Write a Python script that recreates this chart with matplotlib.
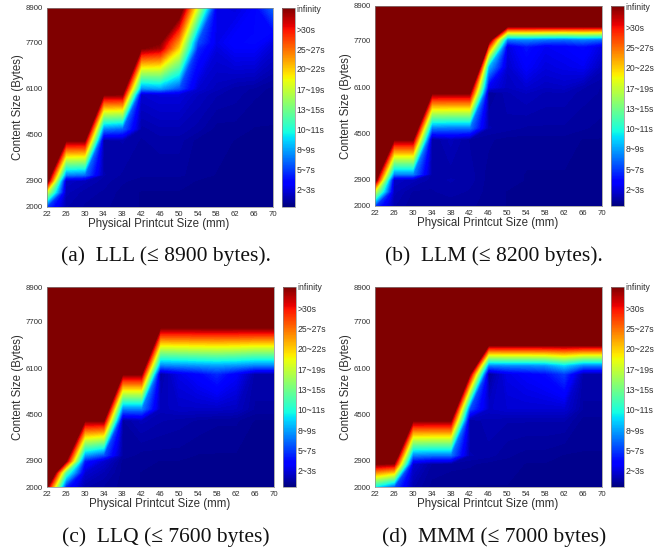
import numpy as np
import matplotlib
matplotlib.use("Agg")
import matplotlib.pyplot as plt
from matplotlib.cm import ScalarMappable
from matplotlib.colors import Normalize

W, H = 670, 550
sizes_mm = [22, 26, 30, 34, 38, 42, 46, 50, 54, 58, 62, 66, 70]
y_ticks = [2000, 2900, 4500, 6100, 7700, 8900]

# Colour-bar units: 0..10, where 10 and above means "infinity"
cbar_ticks = [0.84, 1.84, 2.85, 3.87, 4.87, 5.89, 6.93, 7.93, 8.93, 10]
cbar_labels = ["2~3s", "5~7s", "8~9s", "10~11s", "13~15s", "17~19s",
               "20~22s", "25~27s", ">30s", "infinity"]

lll_rows = [2000, 2500, 2900, 3100, 4300, 4700, 5900, 6100, 7500, 7700, 8900]
lll_vals = [
    [1.8, .4, .3, .25, .2, .15, .15, .15, .15, .15, .15, .15, .15],
    [6, .5, .35, .3, .2, .15, .15, .15, .15, .15, .15, .15, .15],
    [10.5, .6, .5, .35, .25, .2, .2, .2, .15, .15, .15, .15, .15],
    [11.5, 2.5, 2.3, .4, .3, .25, .25, .25, .2, .15, .15, .15, .15],
    [18, 10, 10, .3, .4, .3, .35, .35, .2, .2, .15, .15, .15],
    [20, 20, 12.5, 2.5, 2.2, .35, .45, .45, .35, .2, .2, .15, .15],
    [20, 20, 20, 10, 10, .7, .8, .8, .55, .4, .35, .25, .2],
    [20, 20, 20, 20, 11, 2.6, 2.8, 2.0, .7, .5, .35, .3, .2],
    [20, 20, 20, 20, 20, 10, 9.6, 6.8, 1.6, .8, 1.1, 1.1, .7],
    [20, 20, 20, 20, 20, 20, 10, 7.4, 2.0, .9, 1.2, 1.3, .8],
    [20, 20, 20, 20, 20, 20, 16, 11, 6, .9, .8, 1.1, 2.2],
]

llm_rows = [2000, 2500, 2900, 3100, 4300, 4700, 5900, 6100, 6800, 7500, 7750, 8200, 8900]
llm_vals = [
    [1.8, .4, .25, .25, .25, .25, .2, .15, .15, .15, .15, .15, .15],
    [6, .5, .3, .3, .35, .3, .2, .15, .15, .15, .15, .15, .15],
    [10.5, .6, .5, .35, .4, .35, .2, .2, .15, .15, .15, .15, .15],
    [11.5, 2.5, 2.5, .35, .35, .35, .2, .2, .15, .15, .15, .15, .15],
    [18, 10, 10, .3, .5, .3, .25, .2, .2, .2, .2, .15, .15],
    [20, 20, 12.5, 2.5, 2.4, 2.4, .4, .35, .3, .3, .3, .25, .2],
    [20, 20, 20, 10, 10, 10, .2, .45, .55, .45, .45, .35, .3],
    [20, 20, 20, 20, 20, 11.2, 1.0, .55, .7, .55, .6, .4, .3],
    [20, 20, 20, 20, 20, 18, 3.0, .65, 1.1, .8, .9, 1.0, .5],
    [20, 20, 20, 20, 20, 30, 8.5, .8, 1.4, 1.0, 1.1, 1.3, .8],
    [20, 20, 20, 20, 20, 30, 11, 2.5, 2.6, 2.4, 2.3, 2.5, 2.3],
    [20, 20, 20, 20, 20, 20, 20, 10, 10, 10, 10, 10, 10],
    [20, 20, 20, 20, 20, 20, 20, 20, 20, 20, 20, 20, 20],
]

llq_rows = [2000, 2500, 2900, 3100, 4300, 4700, 5900, 6200, 7500, 8900]
llq_vals = [
    [10, 1.5, .4, .3, .2, .15, .15, .15, .15, .15, .15, .15, .15],
    [14, 4.5, .7, .45, .2, .15, .15, .15, .15, .15, .15, .15, .15],
    [20, 10, 1.5, .7, .2, .2, .15, .15, .15, .15, .15, .15, .15],
    [20, 11.2, 2.8, 2.0, .3, .2, .2, .2, .15, .15, .15, .15, .15],
    [20, 18, 10, 10, .3, .5, .4, .35, .3, .25, .25, .15, .15],
    [20, 20, 20, 12.5, 2.5, 2.5, .5, .6, .6, .6, .55, .3, .3],
    [20, 20, 20, 20, 10, 10, .3, .9, 1.2, 1.6, 1.1, .35, .35],
    [20, 20, 20, 20, 20, 11.7, 2.5, 2.6, 2.7, 2.8, 2.7, 2.5, 2.5],
    [20, 20, 20, 20, 20, 20, 10, 10, 10, 10, 10, 10, 10],
    [20, 20, 20, 20, 20, 20, 20, 20, 20, 20, 20, 20, 20],
]

mmm_rows = [2000, 2800, 3100, 4300, 4700, 5900, 6200, 6900, 8900]
mmm_vals = [
    [3.5, 2.0, .4, .2, .2, .15, .15, .15, .15, .15, .15, .15, .15],
    [10, 9.8, .7, .3, .25, .25, .2, .2, .15, .15, .15, .15, .15],
    [12, 11.9, 2.5, 2.4, 2.4, .4, .35, .25, .2, .2, .15, .15, .15],
    [20, 20, 10, 10, 10, .3, .45, .4, .4, .4, .4, .2, .2],
    [20, 20, 20, 20, 12.7, 2.0, .6, .7, .7, .7, .7, .3, .3],
    [20, 20, 20, 20, 20, 10, .2, .9, 1.1, 1.3, 1.8, .35, .35],
    [20, 20, 20, 20, 20, 13.2, 2.5, 2.6, 2.6, 2.7, 3.3, 2.5, 2.5],
    [20, 20, 20, 20, 20, 25, 10, 10, 10, 10, 10, 10, 10],
    [20, 20, 20, 20, 20, 20, 20, 20, 20, 20, 20, 20, 20],
]

captions = ["(a)  LLL (≤ 8900 bytes).", "(b)  LLM (≤ 8200 bytes).",
            "(c)  LLQ (≤ 7600 bytes)", "(d)  MMM (≤ 7000 bytes)"]
panels = [(lll_rows, lll_vals), (llm_rows, llm_vals),
          (llq_rows, llq_vals), (mmm_rows, mmm_vals)]

# Layout in pixels: axes left/right/top/bottom, colour bar left/right, caption x/y
layout = [
    (47, 273, 8, 206.5, 282, 294.5, 166, 256),
    (375, 602, 6, 206, 611, 623.5, 494, 256),
    (47, 273.5, 287, 487, 283, 295.5, 166, 537),
    (375, 602, 287, 487, 611, 623.5, 494, 537),
]

SANS = "Liberation Sans"
SERIF = "Liberation Serif"
GREY = "#8a8a8a"
TEXT = "#303030"


def px_axes(fig, left, right, top, bottom):
    return fig.add_axes([left / W, 1 - bottom / H, (right - left) / W, (bottom - top) / H])


fig = plt.figure(figsize=(W / 100, H / 100), dpi=100, facecolor="white")
levels = np.linspace(0, 10, 129)
jet = plt.get_cmap("jet").copy()

for (rows, vals), cap, (l, r, t, b, cl, cr, capx, capy) in zip(panels, captions, layout):
    ax = px_axes(fig, l, r, t, b)
    ax.contourf(sizes_mm, rows, np.array(vals), levels=levels, cmap=jet, vmin=0, vmax=10, extend="max")
    ax.set_xlim(22, 70)
    ax.set_ylim(2000, 8900)
    ax.set_xticks(sizes_mm)
    ax.set_yticks(y_ticks)
    ax.tick_params(length=0, pad=3, labelsize=5.6, labelcolor=TEXT)
    for lab in ax.get_xticklabels() + ax.get_yticklabels():
        lab.set_fontfamily(SANS)
    for s in ax.spines.values():
        s.set_color(GREY)
        s.set_linewidth(0.5)
    fig.text(((l + r) / 2 - 1) / W, 1 - (b + 17) / H, "Physical Printcut Size (mm)", family=SANS,
             fontsize=8.3, color=TEXT, ha="center", va="center")
    fig.text((l - 29) / W, 1 - (t + b) / 2 / H, "Content Size (Bytes)", family=SANS,
             fontsize=8.3, color=TEXT, rotation=90, ha="center", va="center")
    cax = px_axes(fig, cl, cr, t, b)
    cb = fig.colorbar(ScalarMappable(Normalize(0, 10), jet), cax=cax)
    cb.set_ticks(cbar_ticks)
    cb.set_ticklabels(cbar_labels)
    cax.tick_params(length=0, pad=1.5, labelsize=6.2, labelcolor=TEXT)
    for lab in cax.get_yticklabels():
        lab.set_fontfamily(SANS)
    cb.outline.set_edgecolor(GREY)
    cb.outline.set_linewidth(0.5)
    fig.text(capx / W, 1 - capy / H, cap, family=SERIF, fontsize=15.5, color="#111111",
             ha="center", va="center")

fig.savefig("out.png", dpi=100)
